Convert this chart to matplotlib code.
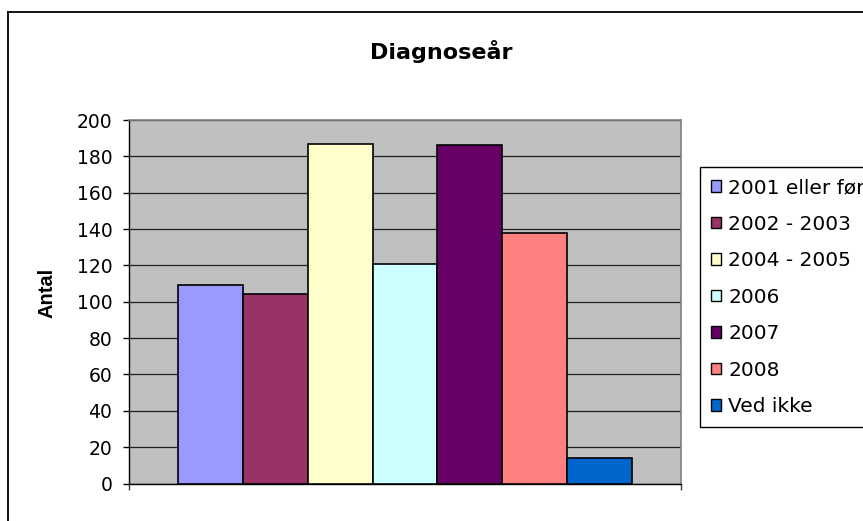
import matplotlib

matplotlib.use("Agg")
import matplotlib.pyplot as plt
from matplotlib.lines import Line2D
from matplotlib.patches import Patch

# data
categories = ["2001 eller før", "2002 - 2003", "2004 - 2005", "2006", "2007", "2008", "Ved ikke"]
counts = [109, 104, 187, 121, 186, 138, 14]
colors = ["#9999FF", "#993366", "#FFFFCC", "#CCFFFF", "#660066", "#FF8080", "#0066CC"]
yticks = [0, 20, 40, 60, 80, 100, 120, 140, 160, 180, 200]

W, H = 863, 521
fig = plt.figure(figsize=(W / 100, H / 100), dpi=100)
fig.patch.set_facecolor("white")

# plot area in pixel coords of the reference
left, right, top, bottom = 129, 681, 120, 483.5
ax = fig.add_axes([left / W, 1 - bottom / H, (right - left) / W, (bottom - top) / H])
ax.set_facecolor("#C0C0C0")

# one category, seven series side by side (Excel style, gap width 150%)
xs = list(range(len(counts)))
ax.bar(xs, counts, width=1.0, color=colors, edgecolor="black", linewidth=1.2, zorder=3)
ax.set_xlim(-1.25, len(counts) + 0.25)
ax.set_ylim(0, 200)

ax.set_yticks(yticks)
ax.set_yticklabels([str(v) for v in yticks], fontsize=13.5, family="DejaVu Sans")
ax.tick_params(axis="y", direction="out", length=4.5, width=1, color="black", pad=7.5)
ax.set_xticks([-1.25, len(counts) + 0.25])
ax.set_xticklabels(["", ""])
ax.tick_params(axis="x", direction="out", length=4.5, width=1, color="#404040")

ax.yaxis.grid(True, color="#202020", linewidth=0.9)
ax.set_axisbelow(True)
for side in ("top", "right"):
    ax.spines[side].set_color("#808080")
    ax.spines[side].set_linewidth(1.2)
for side in ("left", "bottom"):
    ax.spines[side].set_color("black")
    ax.spines[side].set_linewidth(1.0)

fig.text(47 / W, 1 - 293 / H, "Antal", rotation=90, ha="center", va="center",
         fontsize=14.5, fontweight="bold", family="Liberation Sans")

fig.text(441 / W, 1 - 59 / H, "Diagnoseår", ha="center", va="baseline",
         fontsize=16, fontweight="bold", family="DejaVu Sans")

# legend, partly cut off by the right edge like in the reference
handles = [Patch(facecolor=c, edgecolor="black", linewidth=1.0) for c in colors]
leg = fig.legend(handles, categories, loc="upper left", bbox_to_anchor=(700 / W, 1 - 167 / H),
                 borderaxespad=0, prop={"family": "DejaVu Sans", "size": 14.5},
                 handlelength=0.5, handleheight=0.5, handletextpad=0.35,
                 labelspacing=0.87, borderpad=0.55, fancybox=False, framealpha=1)
leg.get_frame().set_edgecolor("black")
leg.get_frame().set_linewidth(1.0)

# chart-area border (only left and top edges fall inside the picture)
fig.add_artist(Line2D([8 / W, 8 / W], [0, 1 - 12 / H], color="black", linewidth=1.3))
fig.add_artist(Line2D([8 / W, 1], [1 - 12 / H, 1 - 12 / H], color="black", linewidth=1.3))

fig.savefig("out.png", dpi=100)
